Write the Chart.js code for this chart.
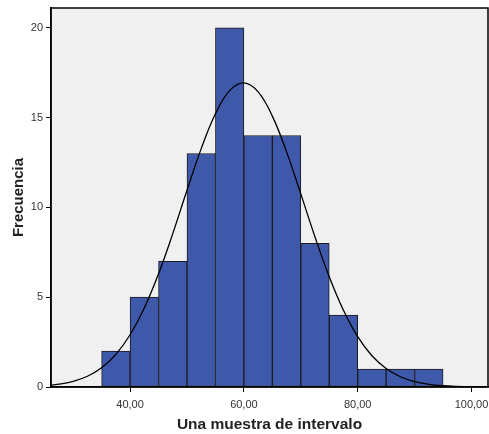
<!DOCTYPE html>
<html>
<head>
<meta charset="utf-8">
<script src="https://cdn.jsdelivr.net/npm/chart.js@4"></script>
<style>
  html, body { margin: 0; padding: 0; background: #fff; }
  #wrap { width: 489px; height: 434px; }
</style>
</head>
<body>
<div id="wrap"><canvas id="histChart" width="489" height="434"></canvas></div>
<script>
// histogram bins (centre of each 5-unit bin) and counts
const binCenters = [37.5, 42.5, 47.5, 52.5, 57.5, 62.5, 67.5, 72.5, 77.5, 82.5, 87.5, 92.5];
const binCounts = [2, 5, 7, 13, 20, 14, 14, 8, 4, 1, 1, 1];

// normal curve
const curveX = [25, 27.5, 30, 32.5, 35, 37.5, 40, 42.5, 45, 47.5, 50, 52.5, 55, 57.5, 60,
  62.5, 65, 67.5, 70, 72.5, 75, 77.5, 80, 82.5, 85, 87.5, 90, 92.5, 95, 97.5, 100, 102.5, 105];
const curveY = [0.075, 0.158, 0.317, 0.6, 1.07, 1.82, 2.91, 4.4, 6.3, 8.54, 10.95, 13.27, 15.21, 16.5, 16.93,
  16.43, 15.08, 13.09, 10.75, 8.35, 6.14, 4.27, 2.8, 1.74, 1.03, 0.57, 0.3, 0.15, 0.07, 0.031, 0.013, 0.005, 0.002];

const xTicks = [40, 60, 80, 100];
const yTicks = [0, 5, 10, 15, 20];

const fontFamily = "'Liberation Sans', Arial, sans-serif";

const plotBackground = {
  id: 'plotBackground',
  beforeDraw(chart) {
    const { ctx, chartArea: a } = chart;
    ctx.save();
    ctx.fillStyle = '#f0f0f0';
    ctx.fillRect(a.left, a.top, a.right - a.left, a.bottom - a.top);
    ctx.restore();
  },
  afterDraw(chart) {
    const { ctx, chartArea: a } = chart;
    ctx.save();
    ctx.strokeStyle = '#000';
    ctx.lineWidth = 1.5;
    ctx.strokeRect(a.left, a.top, a.right - a.left, a.bottom - a.top);
    ctx.restore();
  }
};

new Chart(document.getElementById('histChart').getContext('2d'), {
  type: 'bar',
  data: {
    datasets: [
      {
        type: 'line',
        data: curveX.map((x, i) => ({ x: x, y: curveY[i] })),
        borderColor: '#000',
        borderWidth: 1.3,
        pointRadius: 0,
        tension: 0.4,
        fill: false,
        order: 0
      },
      {
        data: binCenters.map((x, i) => ({ x: x, y: binCounts[i] })),
        backgroundColor: '#3e58aa',
        borderColor: '#1b1b1b',
        borderWidth: 1,
        borderSkipped: false,
        barPercentage: 1,
        categoryPercentage: 1,
        order: 1
      }
    ]
  },
  options: {
    responsive: false,
    animation: false,
    layout: { padding: { top: 8, right: 1, left: 0, bottom: 0 } },
    plugins: { legend: { display: false }, tooltip: { enabled: false } },
    scales: {
      x: {
        type: 'linear',
        min: 26.1,
        max: 102.9,
        offset: false,
        afterFit: (scale) => {
          scale.height = 47;
          scale.paddingLeft = 0;
          scale.paddingRight = 0;
        },
        afterBuildTicks: (scale) => { scale.ticks = xTicks.map(v => ({ value: v })); },
        grid: { offset: false, drawOnChartArea: false, drawTicks: true, tickLength: 5, color: '#000' },
        border: { display: true, color: '#000', width: 1.5 },
        ticks: {
          color: '#333',
          font: { family: fontFamily, size: 11 },
          padding: 6,
          maxRotation: 0,
          callback: (v) => v.toFixed(2).replace('.', ',')
        },
        title: {
          display: true,
          text: 'Una muestra de intervalo',
          color: '#222',
          font: { family: fontFamily, size: 15.5, weight: 'bold' },
          padding: { top: 4, bottom: 0 }
        }
      },
      y: {
        min: 0,
        max: 21.1,
        afterFit: (scale) => {
          scale.width = 51;
          scale.paddingTop = 0;
          scale.paddingBottom = 0;
        },
        afterBuildTicks: (scale) => { scale.ticks = yTicks.map(v => ({ value: v })); },
        grid: { drawOnChartArea: false, drawTicks: true, tickLength: 5, color: '#000' },
        border: { display: true, color: '#000', width: 1.5 },
        ticks: {
          color: '#333',
          font: { family: fontFamily, size: 11 },
          padding: 3
        },
        title: {
          display: true,
          text: 'Frecuencia',
          color: '#222',
          font: { family: fontFamily, size: 15, weight: 'bold' },
          padding: { top: 10, bottom: 4 }
        }
      }
    }
  },
  plugins: [plotBackground]
});
</script>
</body>
</html>
